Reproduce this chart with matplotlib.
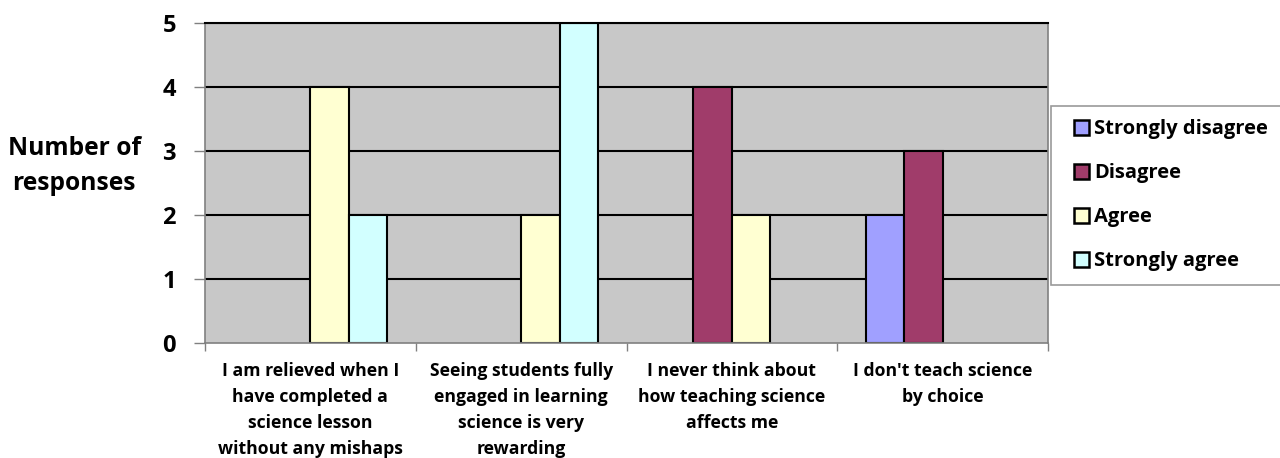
import matplotlib
matplotlib.use("Agg")
import matplotlib.pyplot as plt
from matplotlib.legend_handler import HandlerPatch
from matplotlib.patches import Rectangle
import numpy as np

# Survey data
categories = [
    "I am relieved when I\nhave completed a\nscience lesson\nwithout any mishaps",
    "Seeing students fully\nengaged in learning\nscience is very\nrewarding",
    "I never think about\nhow teaching science\naffects me",
    "I don't teach science\nby choice",
]
series_names = ["Strongly disagree", "Disagree", "Agree", "Strongly agree"]
strongly_disagree = [0, 0, 0, 2]
disagree = [0, 0, 4, 3]
agree = [4, 2, 2, 0]
strongly_agree = [2, 5, 0, 0]
colors = ["#A0A0FF", "#A03C6A", "#FFFFD2", "#D2FFFF"]

plt.rcParams['font.family'] = ['Open Sans', 'DejaVu Sans']
plt.rcParams['font.weight'] = 'bold'


# Square legend key pushed to the right side of the handle box
def square_key(legend, orig_handle, xdescent, ydescent, width, height, fontsize):
    return Rectangle((-xdescent + width - height, -ydescent), height, height)


fig = plt.figure(figsize=(12.8, 4.58), dpi=100)
ax = fig.add_axes([0.1602, 0.2511, 0.6586, 0.6987])
ax.set_facecolor("#C8C8C8")

# Horizontal gridlines
for yv in range(1, 6):
    ax.axhline(yv, color="black", linewidth=1.5, zorder=1)

x = np.arange(len(categories))
w = 0.1825
all_vals = [strongly_disagree, disagree, agree, strongly_agree]
for i, (name, vals, c) in enumerate(zip(series_names, all_vals, colors)):
    vals = np.array(vals, dtype=float)
    vals[vals == 0] = np.nan  # empty bars draw nothing
    ax.bar(x + (i - 1.5) * w, vals, w, color=c, edgecolor="black",
           linewidth=1.5, label=name, zorder=2)

ax.set_xlim(-0.5, 3.5)
ax.set_ylim(0, 5)

# Ticks
ax.set_yticks(range(0, 6))
ax.set_yticklabels([str(v) for v in range(0, 6)], fontsize=17, fontweight='bold')
ax.tick_params(axis='y', length=8, width=1, color="#808080", pad=13)
ax.set_xticks(np.arange(-0.5, 4.0, 1.0))
ax.set_xticklabels([])
ax.tick_params(axis='x', which='major', length=6, width=1, color="#808080")
ax.set_xticks(x, minor=True)
ax.set_xticklabels(categories, minor=True, fontsize=12.7, fontweight='bold',
                   linespacing=1.55, va='top')
ax.tick_params(axis='x', which='minor', length=0, pad=14)

for s in ["left", "bottom", "right"]:
    ax.spines[s].set_color("#808080")
    ax.spines[s].set_linewidth(1.2)
ax.spines["top"].set_color("black")
ax.spines["top"].set_linewidth(1.5)

fig.text(0.058, 0.6376, "Number of\nresponses", fontsize=17.7, fontweight='bold',
         ha='center', va='center', linespacing=1.5)

# Legend with proxy square keys
keys = [Rectangle((0, 0), 1, 1, facecolor=c, edgecolor="black", linewidth=1.8)
        for c in colors]
leg = fig.legend(keys, series_names, loc='upper left',
                 bbox_to_anchor=(0.821, 0.384, 0.25, 0.385),
                 mode='expand', frameon=True, fancybox=False, fontsize=14.5,
                 handlelength=1.2, handleheight=0.75, handletextpad=0.25,
                 labelspacing=1.19, borderpad=0.68, borderaxespad=0,
                 handler_map={Rectangle: HandlerPatch(patch_func=square_key)})
leg.get_frame().set_edgecolor("#808080")
leg.get_frame().set_linewidth(1.2)

fig.savefig("out.png", dpi=100)
